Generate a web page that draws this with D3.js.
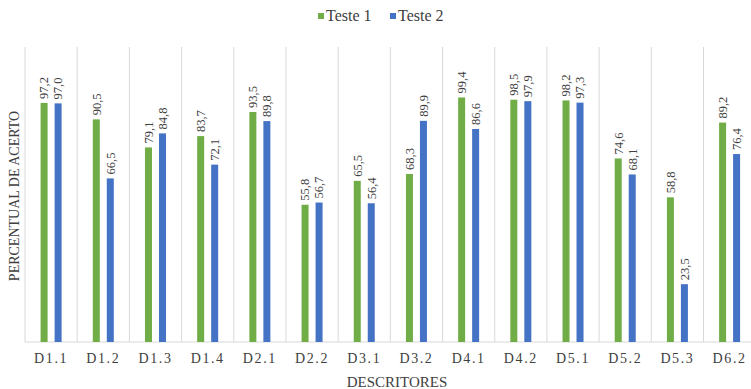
<!DOCTYPE html>
<html>
<head>
<meta charset="utf-8">
<script src="https://cdn.jsdelivr.net/npm/d3@7"></script>
<style>
  html, body { margin: 0; padding: 0; background: #fff; }
  svg { display: block; }
  svg text { font-family: "Liberation Serif", "Times New Roman", serif; fill: #404040; }
</style>
</head>
<body>
<svg id="chart" width="751" height="389"></svg>
<script>
// Descriptor categories and hit percentages for each test
const categories = ["D1.1","D1.2","D1.3","D1.4","D2.1","D2.2","D3.1","D3.2","D4.1","D4.2","D5.1","D5.2","D5.3","D6.2"];
const teste1 = [97.2, 90.5, 79.1, 83.7, 93.5, 55.8, 65.5, 68.3, 99.4, 98.5, 98.2, 74.6, 58.8, 89.2];
const teste2 = [97.0, 66.5, 84.8, 72.1, 89.8, 56.7, 56.4, 89.9, 86.6, 97.9, 97.3, 68.1, 23.5, 76.4];
const seriesNames = ["Teste 1", "Teste 2"];
const yDomain = [0, 100];

const colors = ["#70AD47", "#4472C4"];
const fmt = v => d3.format(".1f")(v).replace(".", ",");
const serif = "'Liberation Serif', 'Times New Roman', serif";

const svg = d3.select("#chart");
const plotLeft = 25, plotRight = 755.7, plotTop = 47, plotBottom = 342;

const x = d3.scaleBand().domain(categories).range([plotLeft, plotRight]).padding(0);
const y = d3.scaleLinear().domain(yDomain).range([plotBottom, 96]);

// category separators
const g = svg.append("g");
g.selectAll("line.sep")
  .data(d3.range(categories.length + 1))
  .join("line")
  .attr("class", "sep")
  .attr("x1", i => plotLeft + i * x.step())
  .attr("x2", i => plotLeft + i * x.step())
  .attr("y1", plotTop).attr("y2", plotBottom)
  .attr("stroke", "#d9d9d9").attr("stroke-width", 1);

// baseline
g.append("line")
  .attr("x1", plotLeft).attr("x2", 751)
  .attr("y1", plotBottom).attr("y2", plotBottom)
  .attr("stroke", "#d9d9d9").attr("stroke-width", 1);

const rows = categories.map((c, i) => ({ c, vals: [teste1[i], teste2[i]] }));

const bw = 7;
const offset = k => x.bandwidth() / 2 + (k === 0 ? -7 : 7);
const cat = g.selectAll("g.cat").data(rows).join("g")
  .attr("class", "cat")
  .attr("transform", d => `translate(${x(d.c)},0)`);

cat.selectAll("rect")
  .data(d => d.vals.map((v, k) => ({ v, k })))
  .join("rect")
  .attr("x", d => offset(d.k) - bw / 2)
  .attr("width", bw)
  .attr("y", d => y(d.v))
  .attr("height", d => plotBottom - y(d.v))
  .attr("fill", d => colors[d.k]);

cat.selectAll("text.val")
  .data(d => d.vals.map((v, k) => ({ v, k })))
  .join("text")
  .attr("class", "val")
  .attr("transform", d => `translate(${offset(d.k)},${y(d.v) - 4}) rotate(-90)`)
  .attr("dy", "0.35em")
  .attr("text-anchor", "start")
  .style("font-family", serif)
  .style("font-size", "12.5px")
  .text(d => fmt(d.v));

// x axis labels
const xAxis = d3.axisBottom(x).tickSize(0).tickPadding(0);
const ax = svg.append("g").attr("transform", `translate(0,${plotBottom})`).call(xAxis);
ax.select(".domain").remove();
ax.selectAll("text")
  .attr("y", 21)
  .attr("dy", 0)
  .style("font-family", serif)
  .style("font-size", "14px")
  .style("letter-spacing", "1.6px")
  .style("fill", "#404040");

// axis titles
svg.append("text")
  .attr("x", 397).attr("y", 387)
  .attr("text-anchor", "middle")
  .style("font-family", serif)
  .style("font-size", "15px")
  .text("DESCRITORES");

svg.append("text")
  .attr("transform", "translate(19,196) rotate(-90)")
  .attr("text-anchor", "middle")
  .style("font-family", serif)
  .style("font-size", "14px")
  .text("PERCENTUAL DE ACERTO");

// legend
const legend = svg.append("g");
const legendX = [318, 390];
seriesNames.forEach((n, k) => {
  legend.append("rect")
    .attr("x", legendX[k]).attr("y", 13)
    .attr("width", 6).attr("height", 6)
    .attr("fill", colors[k]);
  legend.append("text")
    .attr("x", legendX[k] + 8).attr("y", 21)
    .style("font-family", serif)
    .style("font-size", "16px")
    .text(n);
});
</script>
</body>
</html>
